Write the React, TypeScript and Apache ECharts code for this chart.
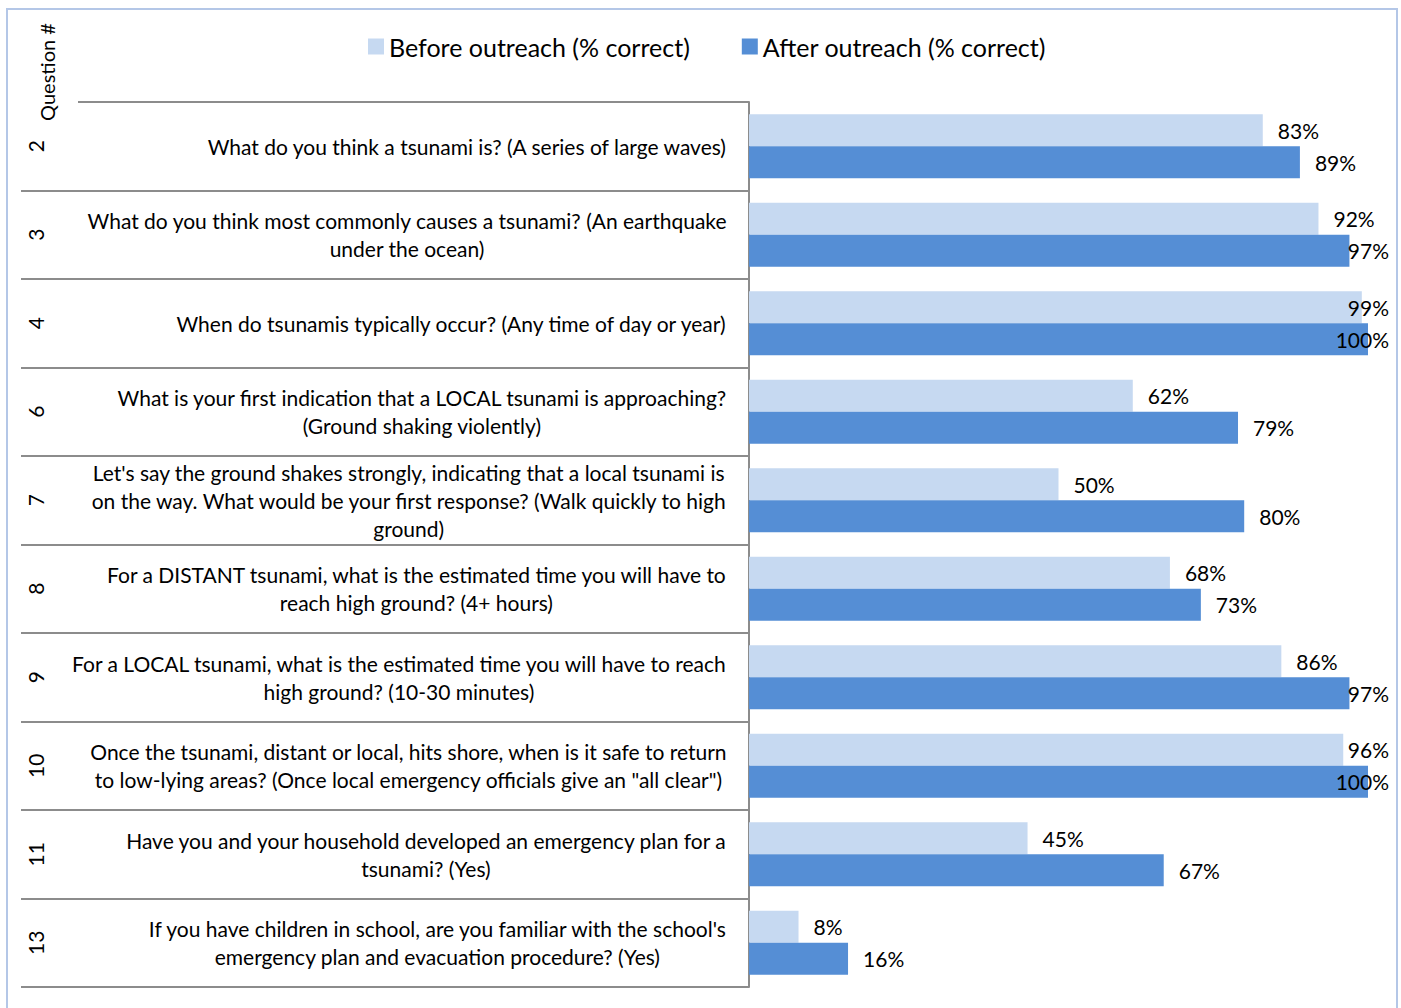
import React, { useEffect, useRef } from 'react';
import * as echarts from 'echarts';

const questionNumbers = ['2', '3', '4', '6', '7', '8', '9', '10', '11', '13'];
const questionTexts = [
  'What do you think a tsunami is? (A series of large waves)',
  'What do you think most commonly causes a tsunami? (An earthquake\nunder the ocean)',
  'When do tsunamis typically occur? (Any time of day or year)',
  'What is your first indication that a LOCAL tsunami is approaching?\n(Ground shaking violently)',
  "Let's say the ground shakes strongly, indicating that a local tsunami is\non the way. What would be your first response? (Walk quickly to high\nground)",
  'For a DISTANT tsunami, what is the estimated time you will have to\nreach high ground? (4+ hours)',
  'For a LOCAL tsunami, what is the estimated time you will have to reach\nhigh ground? (10-30 minutes)',
  'Once the tsunami, distant or local, hits shore, when is it safe to return\nto low-lying areas? (Once local emergency officials give an "all clear")',
  'Have you and your household developed an emergency plan for a\ntsunami? (Yes)',
  "If you have children in school, are you familiar with the school's\nemergency plan and evacuation procedure? (Yes)",
];
const beforeValues = [83, 92, 99, 62, 50, 68, 86, 96, 45, 8];
const afterValues = [89, 97, 100, 79, 80, 73, 97, 100, 67, 16];
const seriesNames = ['Before outreach (% correct)', 'After outreach (% correct)'];
const axisTitle = 'Question #';

const W = 1401;
const H = 1008;
const FONT = 'Lato';
const TEXT_SIZE = 21;
const LABEL_SIZE = 21;
const LEGEND_SIZE = 25;
const GRID = { left: 749, right: 33, top: 102, bottom: 21 };
const LABEL_LIMIT = 21;
const LABEL_DIST = 15;
const COLORS = ['#c6d9f1', '#558ed5'];
const RULE = '#8c8c8c';
const TEXT_COLOR = '#000000';

function measure(text: string, size: number): number {
  const ctx = document.createElement('canvas').getContext('2d');
  if (!ctx) return text.length * size * 0.5;
  ctx.font = `${size}px ${FONT}`;
  return ctx.measureText(text).width;
}

function buildItems(values: number[]) {
  const plotW = W - GRID.left - GRID.right;
  return values.map((v) => {
    const barEnd = (v / 100) * plotW;
    const lw = measure(`${v}%`, LABEL_SIZE);
    if (barEnd + LABEL_DIST + lw > plotW + LABEL_LIMIT) {
      return {
        value: v,
        label: {
          position: 'insideRight',
          offset: [plotW + LABEL_LIMIT - (barEnd - LABEL_DIST), 0],
        },
      };
    }
    return { value: v };
  });
}

export default function App() {
  const ref = useRef<HTMLDivElement>(null);
  useEffect(() => {
    if (!ref.current) return;
    const chart = echarts.init(ref.current, null, { renderer: 'svg' });
    const rich: Record<string, any> = {};
    questionTexts.forEach((_, i) => {
      rich[`q${i}`] = {
        align: 'center',
        fontSize: TEXT_SIZE,
        fontFamily: FONT,
        lineHeight: 28,
        color: TEXT_COLOR,
      };
    });
    const labelStyle = {
      show: true,
      position: 'right',
      distance: LABEL_DIST,
      formatter: '{c}%',
      fontSize: LABEL_SIZE,
      fontFamily: FONT,
      color: TEXT_COLOR,
    };
    chart.setOption({
      animation: false,
      backgroundColor: '#ffffff',
      textStyle: { fontFamily: FONT },
      legend: {
        left: 363,
        top: 29,
        itemWidth: 16,
        itemHeight: 16,
        itemGap: 52,
        icon: 'rect',
        data: seriesNames,
        textStyle: { fontSize: LEGEND_SIZE, fontFamily: FONT, color: TEXT_COLOR },
      },
      grid: { ...GRID, containLabel: false },
      xAxis: { type: 'value', min: 0, max: 100, show: false, splitLine: { show: false } },
      yAxis: [
        {
          type: 'category',
          data: questionTexts,
          inverse: true,
          position: 'left',
          axisLine: { show: true, lineStyle: { color: RULE, width: 2 } },
          axisTick: { show: true, length: 728, lineStyle: { color: RULE, width: 2 } },
          splitLine: { show: false },
          axisLabel: {
            interval: 0,
            margin: 22,
            align: 'right',
            fontSize: TEXT_SIZE,
            fontFamily: FONT,
            color: TEXT_COLOR,
            lineHeight: 28,
            formatter: (v: string, i: number) =>
              v.split('\n').map((l) => `{q${i}|${l}}`).join('\n'),
            rich,
          },
        },
        {
          type: 'category',
          data: questionNumbers,
          inverse: true,
          position: 'left',
          axisLine: { show: false },
          axisTick: { show: false },
          splitLine: { show: false },
          axisLabel: {
            interval: 0,
            margin: 703,
            rotate: 90,
            fontSize: TEXT_SIZE,
            fontFamily: FONT,
            color: TEXT_COLOR,
          },
        },
      ],
      series: [
        {
          type: 'bar',
          name: seriesNames[0],
          data: buildItems(beforeValues),
          barWidth: 32,
          barGap: '0%',
          itemStyle: { color: COLORS[0] },
          label: labelStyle,
        },
        {
          type: 'bar',
          name: seriesNames[1],
          data: buildItems(afterValues),
          barWidth: 32,
          barGap: '0%',
          itemStyle: { color: COLORS[1] },
          label: labelStyle,
        },
      ],
      graphic: [
        {
          type: 'rect',
          z: 50,
          shape: { x: 12, y: 98, width: 66, height: 8 },
          style: { fill: '#ffffff' },
        },
        {
          type: 'text',
          z: 60,
          x: 47,
          y: 72,
          rotation: Math.PI / 2,
          style: {
            text: axisTitle,
            fontSize: 20,
            fontFamily: FONT,
            fill: TEXT_COLOR,
            align: 'center',
            verticalAlign: 'middle',
          },
        },
        {
          type: 'rect',
          z: 60,
          shape: { x: 7, y: 9, width: 1390, height: 1010 },
          style: { fill: 'none', stroke: '#b4c7e7', lineWidth: 2 },
        },
      ],
    });
    return () => chart.dispose();
  }, []);
  return (
    <div
      ref={ref}
      style={{ position: 'absolute', left: 0, top: 0, width: W, height: H }}
    />
  );
}
